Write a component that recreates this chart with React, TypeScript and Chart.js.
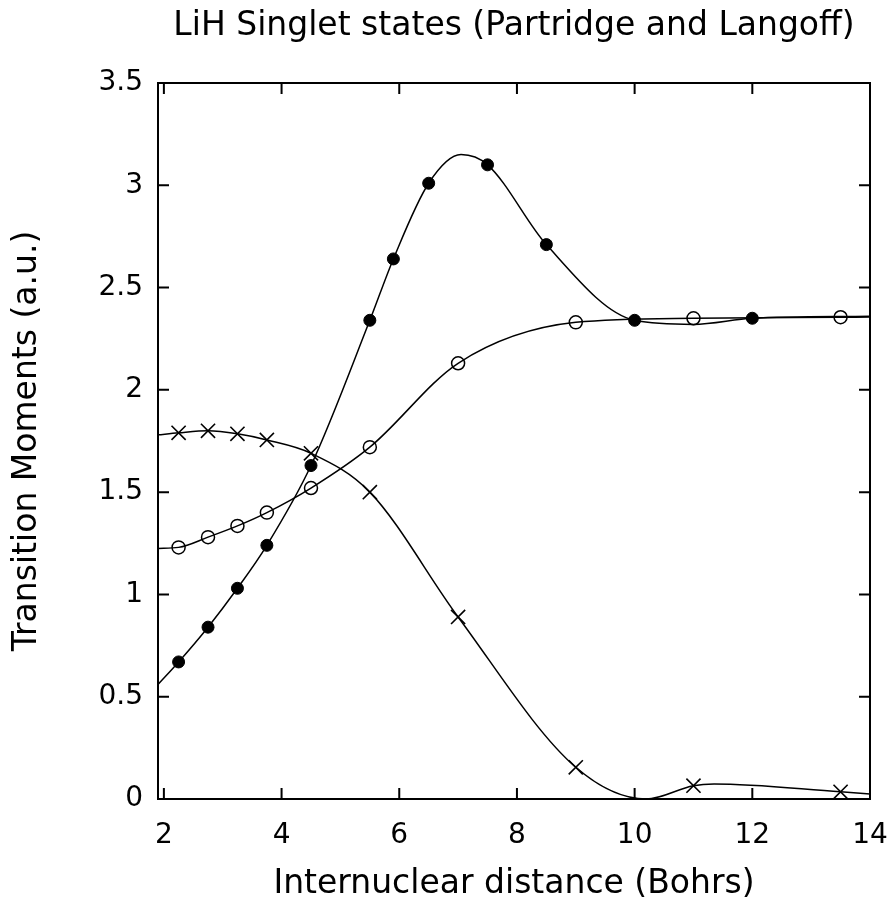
import React, { useEffect, useRef } from "react";
import { Chart, registerables } from "chart.js";

Chart.register(...registerables);

const titleText = "LiH Singlet states (Partridge and Langoff)";
const xTitle = "Internuclear distance (Bohrs)";
const yTitle = "Transition Moments (a.u.)";

const xTicks = [2, 4, 6, 8, 10, 12, 14];
const yTicks = [0, 0.5, 1, 1.5, 2, 2.5, 3, 3.5];

// Filled circles (markers)
const filledX = [2.25, 2.75, 3.25, 3.75, 4.5, 5.5, 5.9, 6.5, 7.5, 8.5, 10, 12];
const filledY = [0.67, 0.84, 1.03, 1.24, 1.63, 2.34, 2.64, 3.01, 3.1, 2.71, 2.34, 2.35];
// Filled circles fitted curve
const filledCurveX = [1.9, 2.25, 2.75, 3.25, 3.75, 4.5, 5.5, 5.9, 6.5, 7.05, 7.5, 8.5, 10, 11, 12, 14];
const filledCurveY = [0.56, 0.67, 0.84, 1.03, 1.24, 1.63, 2.34, 2.64, 3.01, 3.15, 3.1, 2.71, 2.34, 2.32, 2.35, 2.36];

// Open circles (markers)
const openX = [2.25, 2.75, 3.25, 3.75, 4.5, 5.5, 7, 9, 11, 13.5];
const openY = [1.23, 1.28, 1.335, 1.4, 1.52, 1.72, 2.13, 2.33, 2.35, 2.355];
// Open circles fitted curve
const openCurveX = [1.9, 2.25, 2.75, 3.25, 3.75, 4.5, 5.5, 7, 9, 11, 13.5, 14];
const openCurveY = [1.225, 1.23, 1.28, 1.335, 1.4, 1.52, 1.72, 2.13, 2.33, 2.35, 2.355, 2.356];

// Crosses (markers)
const crossX = [2.25, 2.75, 3.25, 3.75, 4.5, 5.5, 7, 9, 11, 13.5];
const crossY = [1.79, 1.8, 1.785, 1.755, 1.69, 1.5, 0.89, 0.155, 0.065, 0.035];
// Crosses fitted curve
const crossCurveX = [1.9, 2.25, 2.75, 3.25, 3.75, 4.5, 5.5, 7, 9, 10.2, 11, 11.35, 13.5, 14];
const crossCurveY = [1.78, 1.79, 1.8, 1.785, 1.755, 1.69, 1.5, 0.89, 0.155, 0.0, 0.065, 0.073, 0.035, 0.025];

const pts = (xs: number[], ys: number[]) => xs.map((x, i) => ({ x, y: ys[i] }));

const framePlugin = {
  id: "frameTicks",
  afterDraw(chart: any) {
    const { ctx, chartArea: a, scales } = chart;
    ctx.save();
    ctx.strokeStyle = "#000";
    ctx.lineWidth = 2;
    ctx.strokeRect(a.left, a.top, a.right - a.left, a.bottom - a.top);
    const len = 11;
    ctx.beginPath();
    xTicks.forEach((v) => {
      const px = scales.x.getPixelForValue(v);
      ctx.moveTo(px, a.bottom);
      ctx.lineTo(px, a.bottom - len);
      ctx.moveTo(px, a.top);
      ctx.lineTo(px, a.top + len);
    });
    yTicks.forEach((v) => {
      const py = scales.y.getPixelForValue(v);
      ctx.moveTo(a.left, py);
      ctx.lineTo(a.left + len, py);
      ctx.moveTo(a.right, py);
      ctx.lineTo(a.right - len, py);
    });
    ctx.stroke();
    ctx.restore();
  },
};

export default function App() {
  const ref = useRef<HTMLCanvasElement | null>(null);

  useEffect(() => {
    if (!ref.current) return;
    Chart.defaults.font.family = "'DejaVu Sans', sans-serif";
    Chart.defaults.color = "#000";

    const curveBase = {
      showLine: true,
      pointRadius: 0,
      borderColor: "#000",
      borderWidth: 1.5,
      backgroundColor: "#000",
      cubicInterpolationMode: "monotone" as const,
      fill: false,
    };

    const chart = new Chart(ref.current, {
      type: "scatter",
      data: {
        datasets: [
          { ...curveBase, label: "filled curve", data: pts(filledCurveX, filledCurveY) },
          { ...curveBase, label: "open curve", data: pts(openCurveX, openCurveY) },
          { ...curveBase, label: "cross curve", data: pts(crossCurveX, crossCurveY) },
          {
            label: "filled",
            data: pts(filledX, filledY),
            showLine: false,
            pointStyle: "circle",
            pointRadius: 6,
            backgroundColor: "#000",
            borderColor: "#000",
            borderWidth: 1,
          },
          {
            label: "open",
            data: pts(openX, openY),
            showLine: false,
            pointStyle: "circle",
            pointRadius: 6.5,
            backgroundColor: "rgba(0,0,0,0)",
            borderColor: "#000",
            borderWidth: 1.5,
          },
          {
            label: "cross",
            data: pts(crossX, crossY),
            showLine: false,
            pointStyle: "crossRot",
            pointRadius: 10,
            backgroundColor: "#000",
            borderColor: "#000",
            borderWidth: 1.6,
          },
        ],
      },
      options: {
        animation: false,
        responsive: false,
        layout: { autoPadding: false, padding: { left: 0, right: 21, top: 0, bottom: 0 } },
        plugins: {
          legend: { display: false },
          tooltip: { enabled: false },
          title: {
            display: true,
            text: titleText,
            fullSize: false,
            color: "#000",
            font: { size: 33, weight: "normal" },
            padding: { top: 7, bottom: 36.4 },
          },
        },
        scales: {
          x: {
            type: "linear",
            min: 1.9,
            max: 14,
            grid: { display: false, drawTicks: false },
            border: { display: false },
            afterBuildTicks: (s: any) => {
              s.ticks = xTicks.map((v) => ({ value: v }));
            },
            afterFit: (s: any) => {
              s.height = 113;
              s.paddingLeft = 0;
              s.paddingRight = 0;
            },
            ticks: { font: { size: 28 }, padding: 20, color: "#000", callback: (v: any) => `${v}` },
            title: {
              display: true,
              text: xTitle,
              font: { size: 33 },
              color: "#000",
              padding: { top: 0, bottom: 8 },
            },
          },
          y: {
            type: "linear",
            min: 0,
            max: 3.5,
            grid: { display: false, drawTicks: false },
            border: { display: false },
            afterBuildTicks: (s: any) => {
              s.ticks = yTicks.map((v) => ({ value: v }));
            },
            afterFit: (s: any) => {
              s.width = 158;
              s.paddingTop = 0;
              s.paddingBottom = 0;
            },
            ticks: { font: { size: 28 }, padding: 15, color: "#000", callback: (v: any) => `${v}` },
            title: {
              display: true,
              text: yTitle,
              font: { size: 33 },
              color: "#000",
              padding: { top: 8, bottom: 0 },
            },
          },
        },
      },
      plugins: [framePlugin],
    } as any);

    return () => chart.destroy();
  }, []);

  return (
    <div style={{ position: "absolute", left: 0, top: 0, width: 891, height: 912, background: "#fff" }}>
      <canvas ref={ref} width={891} height={912} style={{ display: "block" }} />
    </div>
  );
}
